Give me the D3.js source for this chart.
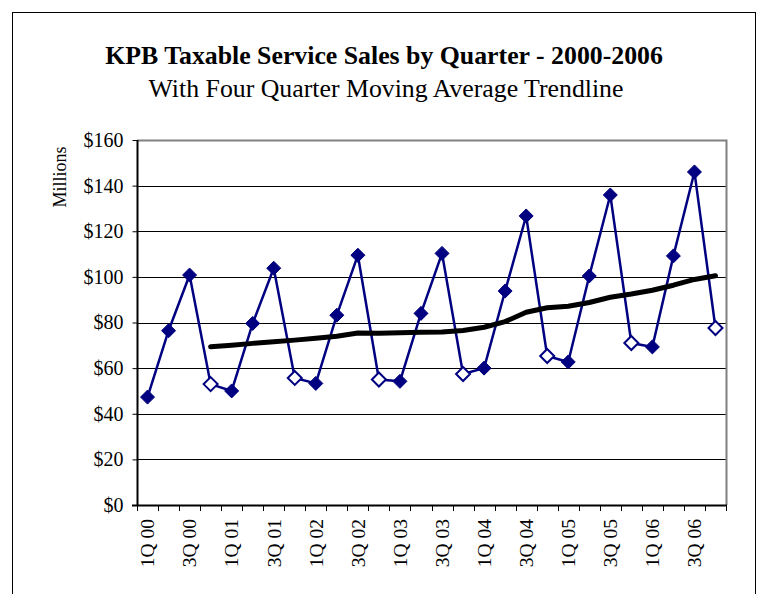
<!DOCTYPE html>
<html>
<head>
<meta charset="utf-8">
<script src="https://cdn.jsdelivr.net/npm/d3@7/dist/d3.min.js"></script>
<style>
  html, body { margin: 0; padding: 0; background: #fff; }
  svg { display: block; font-family: "Liberation Serif", "Times New Roman", serif; }
</style>
</head>
<body>
<svg id="chart" width="758" height="594"></svg>
<script>
// Quarterly taxable service sales, $ millions
const quarters = [
  "1Q 00","2Q 00","3Q 00","4Q 00",
  "1Q 01","2Q 01","3Q 01","4Q 01",
  "1Q 02","2Q 02","3Q 02","4Q 02",
  "1Q 03","2Q 03","3Q 03","4Q 03",
  "1Q 04","2Q 04","3Q 04","4Q 04",
  "1Q 05","2Q 05","3Q 05","4Q 05",
  "1Q 06","2Q 06","3Q 06","4Q 06"
];
const sales = [
  47.3, 76.4, 100.8, 53.0,
  50.0, 79.6, 103.8, 55.7,
  53.3, 83.2, 109.5, 55.0,
  54.2, 84.0, 110.3, 57.4,
  60.0, 93.8, 126.7, 65.3,
  62.7, 100.4, 135.9, 71.0,
  69.3, 109.2, 146.0, 77.6
];
const yTicks = [0, 20, 40, 60, 80, 100, 120, 140, 160];
const titleText = "KPB Taxable Service Sales by Quarter - 2000-2006";
const subtitleText = "With Four Quarter Moving Average Trendline";
const yAxisTitle = "Millions";
const maPeriod = 4;

const svg = d3.select("#chart");
const navy = "#000080";
const serif = "Liberation Serif, Times New Roman, serif";

// chart area frame
svg.append("rect")
  .attr("x", 12.5).attr("y", 12.5)
  .attr("width", 743).attr("height", 600)
  .attr("fill", "#fff").attr("stroke", "#000").attr("stroke-width", 1);

// titles
svg.append("text")
  .attr("x", 384).attr("y", 64)
  .attr("text-anchor", "middle")
  .attr("font-weight", "bold").attr("font-size", 25.8)
  .text(titleText);
svg.append("text")
  .attr("x", 386).attr("y", 97)
  .attr("text-anchor", "middle")
  .attr("font-size", 25.8)
  .text(subtitleText);

const plot = { left: 137, right: 726, top: 140, bottom: 505 };

const x = d3.scaleBand().domain(quarters).range([plot.left, plot.right]).padding(0);
const y = d3.scaleLinear().domain([0, 160]).range([plot.bottom, plot.top]);
const cx = q => x(q) + x.bandwidth() / 2;

// gridlines
svg.append("g")
  .selectAll("line")
  .data(yTicks.filter(v => v > 0 && v < 160))
  .join("line")
  .attr("x1", plot.left).attr("x2", plot.right)
  .attr("y1", d => Math.round(y(d)) + 0.5).attr("y2", d => Math.round(y(d)) + 0.5)
  .attr("stroke", "#000").attr("stroke-width", 1);

// plot-area border (top and right, gray)
svg.append("path")
  .attr("d", `M${plot.left},${plot.top + 0.5}H${plot.right + 0.5}V${plot.bottom}`)
  .attr("fill", "none").attr("stroke", "#808080").attr("stroke-width", 2);

// y axis
const yAxis = svg.append("g")
  .attr("transform", `translate(${plot.left + 0.5},0)`)
  .call(d3.axisLeft(y).tickValues(yTicks).tickSize(5).tickPadding(9)
    .tickFormat(d => "$" + d));
yAxis.select(".domain").attr("stroke", "#000").attr("stroke-width", 2)
  .attr("d", `M0,${plot.top}V${plot.bottom}`);
yAxis.selectAll(".tick line").attr("stroke", "#000");
yAxis.selectAll(".tick text")
  .attr("font-family", serif)
  .attr("font-size", 20).attr("fill", "#000");

// y axis title
svg.append("text")
  .attr("transform", `translate(66,${177}) rotate(-90)`)
  .attr("text-anchor", "middle")
  .attr("font-size", 18)
  .text(yAxisTitle);

// x axis line and category boundary ticks
const xg = svg.append("g");
xg.append("line")
  .attr("x1", plot.left - 5).attr("x2", plot.right + 1)
  .attr("y1", plot.bottom + 0.5).attr("y2", plot.bottom + 0.5)
  .attr("stroke", "#000").attr("stroke-width", 2);
const bounds = quarters.map(q => x(q)).concat([x.range()[1]]);
xg.selectAll("line.tk")
  .data(bounds)
  .join("line")
  .attr("class", "tk")
  .attr("x1", d => Math.round(d) + 0.5).attr("x2", d => Math.round(d) + 0.5)
  .attr("y1", plot.bottom).attr("y2", plot.bottom + 6)
  .attr("stroke", "#000").attr("stroke-width", 1);

// category labels, every other quarter
const xAxis = svg.append("g")
  .attr("transform", `translate(0,${plot.bottom})`)
  .call(d3.axisBottom(x).tickValues(quarters.filter((q, i) => i % 2 === 0)).tickSize(0));
xAxis.select(".domain").remove();
xAxis.selectAll(".tick text")
  .attr("font-family", serif)
  .attr("font-size", 19.5).attr("fill", "#000")
  .attr("transform", "rotate(-90)")
  .attr("text-anchor", "end")
  .attr("x", -14).attr("y", 0).attr("dy", "0.35em");

// sales series
const pts = quarters.map((q, i) => ({ q, v: sales[i], i }));
svg.append("path")
  .datum(pts)
  .attr("fill", "none").attr("stroke", navy).attr("stroke-width", 2.5)
  .attr("stroke-linejoin", "round")
  .attr("d", d3.line().x(d => cx(d.q)).y(d => y(d.v)));

// four-quarter moving average trendline
const ma = pts.slice(maPeriod - 1).map(d => ({
  q: d.q,
  v: d3.mean(sales.slice(d.i - maPeriod + 1, d.i + 1))
}));
svg.append("path")
  .datum(ma)
  .attr("fill", "none").attr("stroke", "#000").attr("stroke-width", 5)
  .attr("stroke-linejoin", "round").attr("stroke-linecap", "round")
  .attr("d", d3.line().x(d => cx(d.q)).y(d => y(d.v)));

// markers: filled diamonds, open diamonds for fourth quarters
const diamond = d3.symbol().type(d3.symbolDiamond2).size(125);
svg.append("g")
  .selectAll("path")
  .data(pts)
  .join("path")
  .attr("transform", d => `translate(${cx(d.q)},${y(d.v)})`)
  .attr("d", diamond)
  .attr("fill", d => d.i % 4 === 3 ? "#fff" : navy)
  .attr("stroke", navy)
  .attr("stroke-width", d => d.i % 4 === 3 ? 2 : 1);
</script>
</body>
</html>
